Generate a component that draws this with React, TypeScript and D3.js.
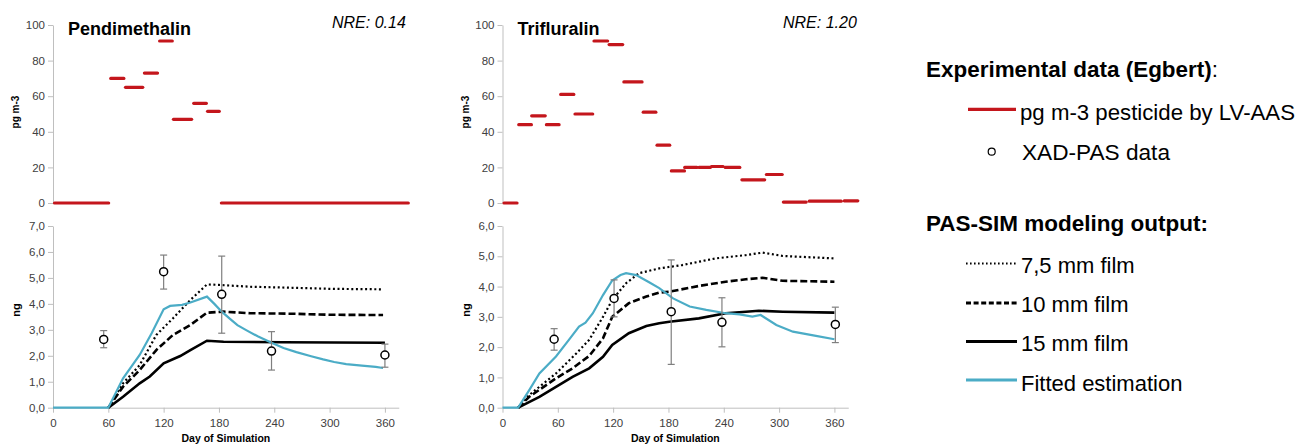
import React, { useEffect, useRef } from 'react'
import * as d3 from 'd3'

// ---- Pendimethalin ----
// air concentration by LV-AAS (pg m-3), one bar per sampling period
const pendiAirStart = [0, 61, 77, 97.5, 114, 129, 151, 166, 181]
const pendiAirEnd = [62, 78.5, 99, 115, 131, 152, 168, 182, 387]
const pendiAirValue = [0, 70, 65, 73, 91, 47, 56, 51.5, 0]

// XAD-PAS uptake (ng) with error bars
const pendiXadDay = [55, 120, 183, 237, 360]
const pendiXadValue = [2.63, 5.24, 4.37, 2.18, 2.03]
const pendiXadLow = [2.31, 4.57, 2.87, 1.45, 1.56]
const pendiXadHigh = [2.97, 5.88, 5.84, 2.93, 2.45]

// PAS-SIM output (ng)
const pendiFilm75Day = [60, 76, 94, 112, 130, 149, 167, 180, 214, 260, 300, 358]
const pendiFilm75 = [0, 0.94, 1.64, 2.8, 3.44, 4.15, 4.75, 4.73, 4.66, 4.62, 4.58, 4.56]
const pendiFilm10Day = [60, 76, 94, 112, 130, 149, 167, 185, 214, 260, 300, 358]
const pendiFilm10 = [0, 0.81, 1.45, 2.22, 2.8, 3.19, 3.66, 3.7, 3.64, 3.62, 3.58, 3.57]
const pendiFilm15Day = [60, 76, 94, 105, 120, 138, 149, 167, 185, 250, 360]
const pendiFilm15 = [0, 0.42, 0.94, 1.2, 1.71, 1.99, 2.22, 2.58, 2.54, 2.52, 2.5]
const pendiFitDay = [0, 60, 76, 94, 107, 120, 127, 140, 149, 167, 175, 183, 192, 200, 210, 222, 237, 250, 264, 280, 293, 305, 318, 335, 350, 358]
const pendiFit = [0, 0, 1.13, 2.03, 2.87, 3.79, 3.92, 3.96, 4.05, 4.28, 4.0, 3.7, 3.42, 3.18, 2.98, 2.75, 2.5, 2.3, 2.14, 1.98, 1.86, 1.76, 1.68, 1.62, 1.57, 1.53]

// ---- Trifluralin ----
const trifAirStart = [0, 16, 30, 46, 61.5, 77, 97.6, 114, 130, 151, 166, 181.5, 196, 211.5, 225, 240, 258, 284.6, 303, 331, 369]
const trifAirEnd = [17.4, 33, 48, 63, 79, 99.5, 115.7, 132, 153, 168, 183, 199, 212.6, 227, 241, 259, 286, 305, 331, 369, 387]
const trifAirValue = [0, 44, 49, 44, 61, 50, 91, 89, 68, 51, 32.5, 18, 20, 20, 20.5, 20, 13, 16, 0.5, 1, 1.2]

const trifXadDay = [56, 121, 183, 238, 361]
const trifXadValue = [2.26, 3.61, 3.17, 2.82, 2.75]
const trifXadLow = [1.9, 3.0, 1.43, 2.01, 2.15]
const trifXadHigh = [2.61, 4.22, 4.88, 3.63, 3.32]

const trifFilm75Day = [17, 29, 58, 80, 94, 109, 119, 134, 148, 170, 195, 231, 264, 282, 304, 360]
const trifFilm75 = [0, 0.42, 1.13, 1.79, 2.24, 3.0, 3.56, 4.11, 4.44, 4.6, 4.71, 4.93, 5.04, 5.12, 5.01, 4.93]
const trifFilm10Day = [17, 29, 58, 76, 94, 109, 119, 137, 156, 170, 181, 213, 242, 264, 282, 304, 360]
const trifFilm10 = [0, 0.36, 0.97, 1.3, 1.71, 2.29, 3.0, 3.45, 3.67, 3.8, 3.83, 4.02, 4.16, 4.24, 4.29, 4.19, 4.16]
const trifFilm15Day = [17, 40, 58, 76, 94, 109, 119, 137, 156, 170, 181, 213, 242, 264, 278, 304, 360]
const trifFilm15 = [0, 0.36, 0.69, 1.02, 1.3, 1.68, 2.07, 2.46, 2.7, 2.79, 2.84, 2.95, 3.12, 3.17, 3.2, 3.17, 3.14]
const trifFitDay = [0, 17, 29, 40, 58, 72, 83, 90, 98, 109, 119, 128, 134, 145, 159, 170, 185, 203, 221, 242, 257, 271, 280, 297, 315, 340, 360]
const trifFit = [0, 0, 0.58, 1.13, 1.69, 2.24, 2.68, 2.81, 3.12, 3.72, 4.2, 4.38, 4.44, 4.38, 4.14, 3.95, 3.61, 3.34, 3.23, 3.12, 3.08, 3.01, 3.06, 2.73, 2.51, 2.37, 2.26]

const dayTicks = [0, 60, 120, 180, 240, 300, 360]
const airTicks = [0, 20, 40, 60, 80, 100]

const RED = '#c4161c'
const BLUE = '#4bacc6'
const AXIS = '#bfbfbf'
const NARROW = "'Liberation Sans Narrow', 'Arial Narrow', 'Liberation Sans', Arial, sans-serif"
const SANS = "'Liberation Sans', Arial, sans-serif"

const Axis = ({ scale, orient, x, y, ticks, fmt, pad }) => {
  const ref = useRef(null)
  useEffect(() => {
    const g = d3.select(ref.current)
    const axis = orient === 'left' ? d3.axisLeft(scale) : d3.axisBottom(scale)
    axis.tickValues(ticks).tickSize(5).tickSizeOuter(0).tickPadding(pad)
    if (fmt) axis.tickFormat(fmt)
    g.call(axis)
    g.select('.domain').attr('stroke', AXIS)
    g.selectAll('.tick line').attr('stroke', AXIS)
    g.selectAll('.tick text')
      .attr('fill', '#404040')
      .attr('font-size', 11.5)
      .attr('font-family', NARROW)
  })
  return <g ref={ref} transform={`translate(${x},${y})`} />
}

const commaFmt = d => d3.format('.1f')(d).replace('.', ',')

const Panel = ({ ox, title, nre, nreX, yMax, air, xad, film75, film10, film15, fit }) => {
  const x = d3.scaleLinear().domain([0, 375]).range([ox, ox + 375 * 0.922])
  const yTop = d3.scaleLinear().domain([0, 100]).range([203, 25])
  const yBot = d3.scaleLinear().domain([0, yMax]).range([407.7, 226])
  const yTicks = d3.range(0, yMax + 0.01, 1)

  const path = (days, vals) =>
    d3.line().x((d, i) => x(days[i])).y(d => yBot(d))(vals)

  const midX = (x.range()[0] + x.range()[1]) / 2

  return (
    <g>
      <Axis scale={yTop} orient="left" x={ox} y={0} ticks={airTicks} pad={3} />
      <Axis scale={yBot} orient="left" x={ox} y={0} ticks={yTicks} fmt={commaFmt} pad={3} />
      <Axis scale={x} orient="bottom" x={0} y={407.7} ticks={dayTicks} pad={6} />

      {air.start.map((s, i) => (
        <line key={i} x1={x(s) + 1.5} x2={x(air.end[i]) - 1.5} y1={yTop(air.value[i])} y2={yTop(air.value[i])}
          stroke={RED} strokeWidth={3.2} strokeLinecap="round" />
      ))}

      <path d={path(film75.day, film75.value)} fill="none" stroke="#000" strokeWidth={2.2} strokeDasharray="2,2.6" />
      <path d={path(film10.day, film10.value)} fill="none" stroke="#000" strokeWidth={2.6} strokeDasharray="7,3" />
      <path d={path(film15.day, film15.value)} fill="none" stroke="#000" strokeWidth={2.6} />
      <path d={path(fit.day, fit.value)} fill="none" stroke={BLUE} strokeWidth={2.2} />

      {xad.day.map((d, i) => (
        <g key={i} stroke="#7f7f7f" strokeWidth={1.2}>
          <line x1={x(d)} x2={x(d)} y1={yBot(xad.low[i])} y2={yBot(xad.high[i])} />
          <line x1={x(d) - 3.5} x2={x(d) + 3.5} y1={yBot(xad.low[i])} y2={yBot(xad.low[i])} />
          <line x1={x(d) - 3.5} x2={x(d) + 3.5} y1={yBot(xad.high[i])} y2={yBot(xad.high[i])} />
          <circle cx={x(d)} cy={yBot(xad.value[i])} r={4} fill="#fff" stroke="#000" strokeWidth={1.5} />
        </g>
      ))}

      <text x={ox + 15} y={35} fontFamily={SANS} fontWeight="bold" fontSize={18} fill="#000">{title}</text>
      <text x={nreX} y={28} fontFamily={SANS} fontStyle="italic" fontSize={16} fill="#000">{nre}</text>
      <text transform={`translate(${ox - 34},112) rotate(-90)`} textAnchor="middle" fontFamily={SANS}
        fontWeight="bold" fontSize={10} fill="#000">pg m-3</text>
      <text transform={`translate(${ox - 33},310) rotate(-90)`} textAnchor="middle" fontFamily={SANS}
        fontWeight="bold" fontSize={11} fill="#000">ng</text>
      <text x={midX} y={441.5} textAnchor="middle" fontFamily={SANS} fontWeight="bold" fontSize={10.5} fill="#000">
        Day of Simulation
      </text>
    </g>
  )
}

const App = () => {
  const legendLines = [
    { label: '7,5 mm film', y: 263.5, stroke: '#000', dash: '1.6,2.4', w: 2.2, base: 273 },
    { label: '10 mm film', y: 303, stroke: '#000', dash: '5,2.6', w: 3, base: 312 },
    { label: '15 mm film', y: 341.5, stroke: '#000', dash: null, w: 3, base: 351 },
    { label: 'Fitted estimation', y: 380, stroke: BLUE, dash: null, w: 3, base: 391 },
  ]
  return (
    <svg width={1301} height={445} style={{ position: 'absolute', left: 0, top: 0, background: '#fff' }}>
      <Panel
        ox={53}
        title="Pendimethalin"
        nre="NRE: 0.14"
        nreX={332}
        yMax={7}
        air={{ start: pendiAirStart, end: pendiAirEnd, value: pendiAirValue }}
        xad={{ day: pendiXadDay, value: pendiXadValue, low: pendiXadLow, high: pendiXadHigh }}
        film75={{ day: pendiFilm75Day, value: pendiFilm75 }}
        film10={{ day: pendiFilm10Day, value: pendiFilm10 }}
        film15={{ day: pendiFilm15Day, value: pendiFilm15 }}
        fit={{ day: pendiFitDay, value: pendiFit }}
      />
      <Panel
        ox={502.5}
        title="Trifluralin"
        nre="NRE: 1.20"
        nreX={783}
        yMax={6}
        air={{ start: trifAirStart, end: trifAirEnd, value: trifAirValue }}
        xad={{ day: trifXadDay, value: trifXadValue, low: trifXadLow, high: trifXadHigh }}
        film75={{ day: trifFilm75Day, value: trifFilm75 }}
        film10={{ day: trifFilm10Day, value: trifFilm10 }}
        film15={{ day: trifFilm15Day, value: trifFilm15 }}
        fit={{ day: trifFitDay, value: trifFit }}
      />

      <g fontFamily={SANS} fill="#000">
        <text x={926} y={77} fontSize={22} fontWeight="bold" textLength={292} lengthAdjust="spacingAndGlyphs">
          Experimental data (Egbert)<tspan fontWeight="normal">:</tspan>
        </text>
        <line x1={968} x2={1016} y1={109.3} y2={109.3} stroke={RED} strokeWidth={3.2} />
        <text x={1020} y={120} fontSize={22} textLength={275} lengthAdjust="spacingAndGlyphs">pg m-3 pesticide by LV-AAS</text>
        <circle cx={991.7} cy={151.7} r={3.5} fill="#fff" stroke="#000" strokeWidth={1.2} />
        <text x={1022} y={160} fontSize={22} textLength={148} lengthAdjust="spacingAndGlyphs">XAD-PAS data</text>

        <text x={926} y={230.5} fontSize={22} fontWeight="bold" textLength={282} lengthAdjust="spacingAndGlyphs">
          PAS-SIM modeling output:
        </text>
        {legendLines.map(l => (
          <g key={l.label}>
            <line x1={966} x2={1017} y1={l.y} y2={l.y} stroke={l.stroke} strokeWidth={l.w}
              strokeDasharray={l.dash || undefined} />
            <text x={1021} y={l.base} fontSize={22}>{l.label}</text>
          </g>
        ))}
      </g>
    </svg>
  )
}

export default App
